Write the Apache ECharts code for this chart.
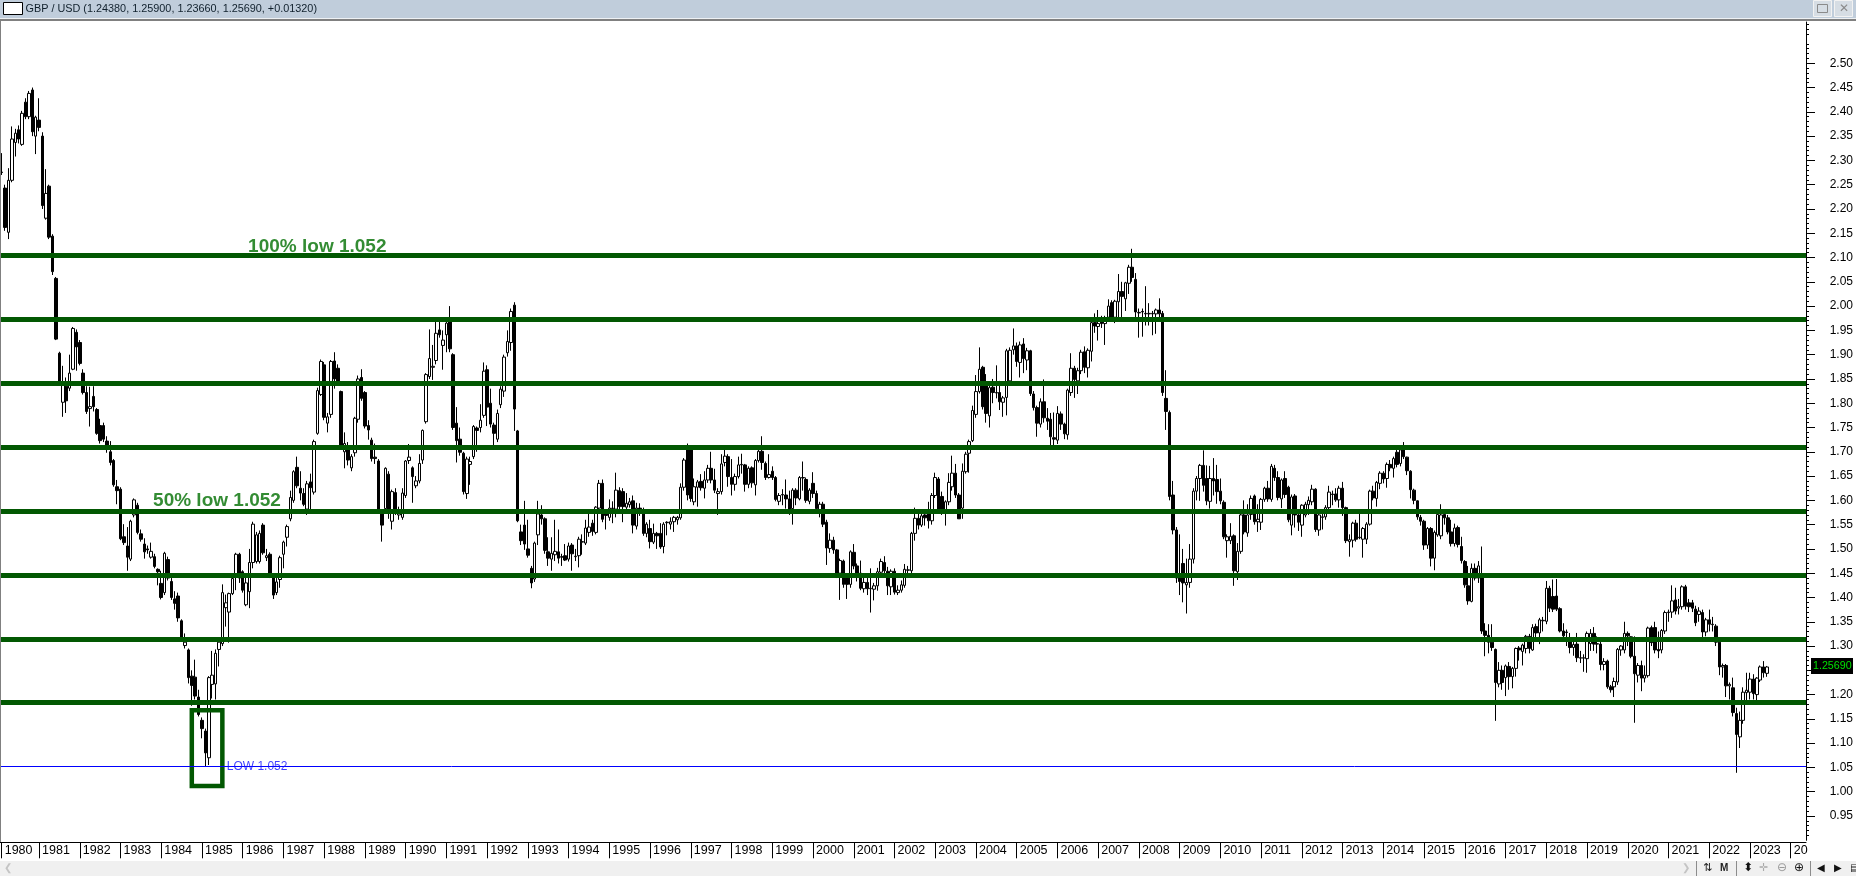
<!DOCTYPE html>
<html><head><meta charset="utf-8">
<style>html,body{margin:0;padding:0;background:#fff}#c{width:1856px;height:876px}</style>
<script src="https://cdn.jsdelivr.net/npm/echarts@6/dist/echarts.min.js"></script>
</head><body><div id="c"></div>
<script>
// Monthly GBP/USD candles, each [open, close, low, high].
const candles1980s = [
[2.275,2.276,2.27,2.315],[2.243,2.162,2.155,2.25],[2.152,2.259,2.138,2.284],[2.259,2.344,2.255,2.37],[2.337,2.356,2.308,2.365],[2.363,2.344,2.335,2.372],[2.333,2.397,2.33,2.402],[2.42,2.39,2.385,2.428],[2.39,2.438,2.385,2.443],[2.445,2.359,2.35,2.45],[2.35,2.389,2.313,2.392],
[2.383,2.368,2.36,2.428],[2.35,2.207,2.2,2.358],[2.181,2.232,2.178,2.282],[2.247,2.142,2.138,2.25],[2.144,2.071,2.064,2.148],[2.057,1.932,1.93,2.06],[1.903,1.844,1.84,1.906],[1.802,1.841,1.772,1.877],[1.835,1.805,1.78,1.853],[1.831,1.862,1.825,1.9],[1.87,1.954,1.868,1.957],[1.946,1.916,1.867,1.952],
[1.925,1.882,1.878,1.93],[1.862,1.822,1.818,1.87],[1.822,1.783,1.778,1.835],[1.789,1.793,1.752,1.834],[1.814,1.793,1.783,1.835],[1.787,1.738,1.735,1.79],[1.754,1.723,1.717,1.768],[1.754,1.726,1.72,1.76],[1.722,1.714,1.698,1.732],[1.7,1.678,1.672,1.722],[1.682,1.632,1.628,1.685],[1.628,1.62,1.592,1.642],
[1.623,1.521,1.518,1.627],[1.525,1.513,1.508,1.551],[1.506,1.483,1.455,1.545],[1.479,1.557,1.475,1.56],[1.57,1.601,1.565,1.604],[1.59,1.534,1.53,1.595],[1.531,1.52,1.515,1.54],[1.51,1.494,1.48,1.522],[1.5,1.498,1.49,1.507],[1.483,1.495,1.48,1.513],[1.484,1.464,1.46,1.49],[1.458,1.453,1.425,1.46],
[1.429,1.4,1.396,1.455],[1.41,1.491,1.405,1.494],[1.478,1.44,1.435,1.484],[1.433,1.4,1.395,1.44],[1.397,1.388,1.375,1.413],[1.403,1.358,1.35,1.41],[1.352,1.317,1.31,1.355],[1.301,1.308,1.295,1.326],[1.292,1.235,1.223,1.295],[1.238,1.219,1.177,1.25],[1.236,1.197,1.19,1.272],[1.195,1.159,1.155,1.21],
[1.147,1.13,1.11,1.153],[1.125,1.08,1.053,1.13],[1.07,1.235,1.055,1.238],[1.221,1.24,1.192,1.29],[1.222,1.285,1.19,1.293],[1.293,1.308,1.258,1.31],[1.305,1.41,1.3,1.427],[1.379,1.389,1.34,1.406],[1.37,1.408,1.307,1.41],[1.408,1.439,1.405,1.45],[1.446,1.489,1.415,1.492],[1.489,1.44,1.43,1.492],
[1.453,1.415,1.41,1.456],[1.385,1.43,1.382,1.45],[1.412,1.472,1.378,1.5],[1.472,1.551,1.46,1.556],[1.474,1.529,1.47,1.535],[1.474,1.532,1.47,1.538],[1.549,1.492,1.488,1.553],[1.482,1.486,1.475,1.5],[1.489,1.443,1.44,1.493],[1.442,1.405,1.397,1.446],[1.41,1.432,1.405,1.44],[1.437,1.482,1.42,1.486],
[1.489,1.514,1.46,1.517],[1.524,1.546,1.505,1.55],[1.562,1.606,1.557,1.62],[1.6,1.659,1.595,1.662],[1.668,1.63,1.625,1.69],[1.625,1.615,1.6,1.66],[1.614,1.592,1.588,1.625],[1.582,1.634,1.57,1.64],[1.638,1.626,1.58,1.655],[1.617,1.721,1.612,1.725],[1.738,1.826,1.735,1.832],[1.818,1.886,1.815,1.89],
[1.879,1.771,1.765,1.885],[1.759,1.772,1.74,1.78],[1.777,1.886,1.77,1.889],[1.887,1.85,1.83,1.905],[1.872,1.846,1.84,1.88],[1.824,1.714,1.71,1.826],[1.7,1.717,1.666,1.74],[1.71,1.683,1.672,1.72],[1.667,1.69,1.66,1.695],[1.698,1.769,1.69,1.772],[1.767,1.85,1.76,1.857],[1.853,1.81,1.805,1.87],
[1.822,1.753,1.748,1.825],[1.754,1.745,1.725,1.765],[1.724,1.686,1.68,1.729],[1.689,1.686,1.675,1.717],[1.681,1.582,1.58,1.685],[1.573,1.549,1.515,1.58],[1.583,1.666,1.575,1.668],[1.654,1.573,1.562,1.66],[1.557,1.618,1.54,1.622],[1.616,1.578,1.57,1.625],[1.57,1.578,1.56,1.587],[1.565,1.615,1.56,1.625]
];
const candles1990s = [
[1.61,1.681,1.605,1.683],[1.682,1.689,1.675,1.716],[1.667,1.649,1.595,1.67],[1.63,1.64,1.625,1.65],[1.64,1.676,1.635,1.695],[1.683,1.744,1.675,1.746],[1.762,1.859,1.758,1.862],[1.855,1.892,1.85,1.952],[1.874,1.876,1.848,1.92],[1.888,1.944,1.88,1.975],[1.951,1.941,1.935,1.975],[1.919,1.93,1.869,1.95],
[1.941,1.965,1.905,1.97],[1.968,1.912,1.905,2.0],[1.9,1.75,1.745,1.903],[1.759,1.723,1.678,1.792],[1.726,1.699,1.692,1.75],[1.697,1.618,1.612,1.7],[1.614,1.685,1.603,1.69],[1.674,1.68,1.632,1.69],[1.69,1.752,1.685,1.755],[1.749,1.744,1.7,1.752],[1.75,1.765,1.74,1.798],[1.775,1.866,1.77,1.884],
[1.869,1.792,1.753,1.878],[1.8,1.757,1.75,1.83],[1.755,1.738,1.714,1.76],[1.726,1.779,1.72,1.787],[1.797,1.829,1.79,1.835],[1.825,1.895,1.813,1.9],[1.904,1.927,1.896,1.95],[1.925,1.989,1.908,1.995],[2.002,1.788,1.743,2.008],[1.743,1.558,1.555,1.745],[1.535,1.517,1.508,1.55],[1.549,1.51,1.498,1.599],
[1.5,1.487,1.482,1.56],[1.46,1.43,1.419,1.465],[1.438,1.512,1.432,1.515],[1.529,1.572,1.508,1.599],[1.57,1.562,1.55,1.59],[1.562,1.497,1.49,1.565],[1.494,1.481,1.465,1.524],[1.479,1.491,1.455,1.524],[1.488,1.495,1.475,1.56],[1.494,1.481,1.47,1.54],[1.483,1.484,1.465,1.49],[1.486,1.477,1.475,1.51],
[1.479,1.506,1.474,1.513],[1.508,1.49,1.455,1.512],[1.484,1.485,1.475,1.5],[1.486,1.52,1.462,1.525],[1.514,1.515,1.488,1.53],[1.512,1.543,1.508,1.56],[1.534,1.545,1.525,1.572],[1.553,1.536,1.527,1.56],[1.534,1.586,1.53,1.588],[1.584,1.635,1.58,1.642],[1.635,1.561,1.555,1.643],[1.572,1.569,1.54,1.58],
[1.565,1.584,1.558,1.602],[1.583,1.584,1.553,1.598],[1.582,1.621,1.565,1.657],[1.62,1.587,1.58,1.627],[1.618,1.587,1.555,1.625],[1.586,1.594,1.58,1.615],[1.591,1.597,1.585,1.605],[1.599,1.549,1.532,1.61],[1.547,1.584,1.54,1.595],[1.584,1.58,1.568,1.594],[1.572,1.532,1.527,1.585],[1.532,1.551,1.524,1.555],
[1.542,1.515,1.501,1.56],[1.514,1.532,1.51,1.552],[1.532,1.527,1.5,1.535],[1.532,1.504,1.5,1.553],[1.505,1.551,1.491,1.555],[1.554,1.555,1.528,1.557],[1.551,1.556,1.54,1.565],[1.556,1.565,1.535,1.568],[1.56,1.565,1.55,1.568],[1.564,1.627,1.56,1.635],[1.627,1.683,1.62,1.687],[1.704,1.611,1.6,1.717],
[1.704,1.604,1.597,1.708],[1.597,1.628,1.59,1.645],[1.627,1.638,1.587,1.642],[1.639,1.626,1.62,1.654],[1.625,1.642,1.604,1.66],[1.642,1.666,1.636,1.673],[1.666,1.642,1.635,1.7],[1.642,1.621,1.615,1.665],[1.614,1.618,1.57,1.625],[1.618,1.675,1.612,1.695],[1.678,1.691,1.67,1.705],[1.69,1.649,1.628,1.695],
[1.647,1.633,1.61,1.685],[1.633,1.649,1.62,1.655],[1.649,1.673,1.645,1.69],[1.673,1.674,1.655,1.696],[1.673,1.633,1.618,1.675],[1.633,1.666,1.625,1.67],[1.667,1.636,1.626,1.67],[1.632,1.682,1.61,1.685],[1.682,1.701,1.678,1.705],[1.701,1.678,1.663,1.732],[1.676,1.647,1.642,1.68],[1.647,1.653,1.645,1.695],
[1.66,1.647,1.642,1.67],[1.647,1.602,1.598,1.65],[1.598,1.61,1.59,1.615],[1.611,1.612,1.59,1.623],[1.611,1.603,1.583,1.643],[1.603,1.577,1.57,1.62],[1.583,1.621,1.55,1.625],[1.621,1.605,1.59,1.625],[1.603,1.647,1.6,1.65],[1.646,1.647,1.62,1.68],[1.643,1.6,1.595,1.647],[1.598,1.621,1.592,1.625]
];
const candles2000s = [
[1.635,1.614,1.605,1.658],[1.614,1.583,1.578,1.62],[1.581,1.592,1.565,1.597],[1.592,1.551,1.545,1.597],[1.555,1.502,1.467,1.56],[1.501,1.518,1.492,1.532],[1.518,1.498,1.49,1.525],[1.498,1.45,1.44,1.5],[1.45,1.476,1.395,1.48],[1.475,1.427,1.42,1.478],[1.44,1.427,1.397,1.445],[1.427,1.494,1.42,1.497],
[1.493,1.465,1.458,1.51],[1.465,1.443,1.433,1.47],[1.45,1.419,1.415,1.476],[1.418,1.431,1.41,1.44],[1.431,1.418,1.405,1.44],[1.418,1.419,1.369,1.46],[1.417,1.424,1.394,1.43],[1.424,1.453,1.414,1.461],[1.452,1.474,1.447,1.48],[1.472,1.455,1.45,1.485],[1.454,1.424,1.405,1.463],[1.422,1.454,1.405,1.458],
[1.454,1.411,1.406,1.46],[1.41,1.415,1.405,1.425],[1.415,1.426,1.41,1.435],[1.425,1.458,1.42,1.469],[1.456,1.457,1.44,1.465],[1.455,1.532,1.45,1.535],[1.532,1.563,1.517,1.585],[1.563,1.549,1.54,1.573],[1.549,1.568,1.545,1.575],[1.57,1.564,1.548,1.573],[1.577,1.558,1.542,1.597],[1.558,1.61,1.55,1.615],
[1.61,1.647,1.605,1.657],[1.644,1.582,1.575,1.648],[1.608,1.577,1.57,1.618],[1.575,1.597,1.548,1.6],[1.597,1.637,1.59,1.656],[1.628,1.656,1.62,1.692],[1.656,1.611,1.605,1.675],[1.611,1.562,1.562,1.615],[1.584,1.66,1.562,1.676],[1.659,1.695,1.655,1.7],[1.697,1.721,1.657,1.725],[1.723,1.785,1.72,1.795],
[1.777,1.824,1.77,1.858],[1.824,1.87,1.82,1.915],[1.874,1.793,1.787,1.877],[1.836,1.779,1.76,1.86],[1.774,1.832,1.75,1.836],[1.833,1.822,1.8,1.85],[1.821,1.822,1.81,1.878],[1.822,1.803,1.786,1.846],[1.802,1.811,1.772,1.815],[1.812,1.908,1.775,1.912],[1.846,1.909,1.84,1.915],[1.91,1.918,1.9,1.954],
[1.918,1.886,1.875,1.925],[1.884,1.92,1.853,1.927],[1.922,1.892,1.862,1.934],[1.889,1.908,1.868,1.914],[1.908,1.82,1.815,1.91],[1.819,1.791,1.785,1.825],[1.791,1.759,1.731,1.795],[1.757,1.803,1.75,1.81],[1.803,1.77,1.76,1.849],[1.769,1.763,1.745,1.79],[1.767,1.731,1.714,1.78],[1.729,1.726,1.714,1.781],
[1.724,1.779,1.716,1.794],[1.778,1.757,1.745,1.783],[1.757,1.737,1.726,1.76],[1.735,1.827,1.725,1.83],[1.822,1.872,1.815,1.903],[1.872,1.849,1.811,1.877],[1.846,1.867,1.819,1.873],[1.867,1.905,1.86,1.91],[1.906,1.874,1.862,1.917],[1.873,1.909,1.853,1.913],[1.907,1.966,1.886,1.97],[1.966,1.959,1.945,1.985],
[1.958,1.964,1.929,1.992],[1.974,1.964,1.955,1.98],[1.964,1.974,1.92,1.98],[1.977,2.0,1.97,2.014],[2.007,1.977,1.97,2.012],[1.977,2.01,1.965,2.013],[2.009,2.03,1.975,2.066],[2.03,2.02,1.977,2.05],[2.015,2.048,1.99,2.05],[2.047,2.08,2.025,2.085],[2.08,2.059,2.05,2.118],[2.055,1.988,1.977,2.068],
[1.986,1.987,1.935,1.995],[1.989,1.988,1.937,1.995],[1.984,1.985,1.96,2.041],[1.984,1.985,1.96,2.006],[1.984,1.985,1.94,1.99],[1.984,1.992,1.943,1.995],[1.992,1.984,1.97,2.016],[1.985,1.822,1.815,1.99],[1.81,1.783,1.745,1.868],[1.781,1.608,1.6,1.785],[1.611,1.539,1.53,1.64],[1.539,1.44,1.43,1.545],
[1.44,1.433,1.405,1.53],[1.47,1.43,1.39,1.5],[1.426,1.431,1.367,1.48],[1.431,1.479,1.42,1.51],[1.479,1.619,1.47,1.625],[1.619,1.645,1.6,1.65],[1.645,1.672,1.599,1.675],[1.672,1.631,1.618,1.703],[1.645,1.599,1.59,1.672],[1.598,1.645,1.583,1.671],[1.645,1.64,1.61,1.687],[1.643,1.618,1.593,1.673]
];
const candles2010s = [
[1.619,1.599,1.592,1.645],[1.596,1.525,1.52,1.6],[1.517,1.525,1.482,1.53],[1.517,1.526,1.51,1.553],[1.527,1.455,1.424,1.53],[1.453,1.495,1.436,1.512],[1.495,1.57,1.49,1.573],[1.57,1.535,1.53,1.6],[1.533,1.57,1.525,1.592],[1.571,1.604,1.56,1.61],[1.609,1.556,1.55,1.612],[1.556,1.561,1.535,1.592],
[1.555,1.602,1.539,1.605],[1.602,1.625,1.597,1.628],[1.625,1.603,1.597,1.64],[1.602,1.67,1.597,1.675],[1.666,1.647,1.64,1.673],[1.647,1.606,1.6,1.66],[1.603,1.642,1.584,1.645],[1.645,1.612,1.605,1.66],[1.627,1.56,1.555,1.63],[1.549,1.607,1.528,1.612],[1.609,1.57,1.544,1.613],[1.57,1.555,1.537,1.58],
[1.549,1.59,1.525,1.592],[1.57,1.592,1.565,1.597],[1.591,1.6,1.57,1.608],[1.597,1.623,1.59,1.632],[1.623,1.54,1.535,1.625],[1.539,1.57,1.527,1.573],[1.565,1.566,1.54,1.572],[1.566,1.585,1.56,1.59],[1.585,1.617,1.58,1.63],[1.612,1.613,1.59,1.62],[1.613,1.601,1.597,1.625],[1.601,1.625,1.585,1.63],
[1.625,1.585,1.568,1.638],[1.585,1.517,1.512,1.587],[1.515,1.519,1.484,1.53],[1.518,1.553,1.503,1.556],[1.553,1.52,1.515,1.56],[1.523,1.524,1.52,1.573],[1.52,1.542,1.482,1.545],[1.52,1.551,1.51,1.555],[1.551,1.619,1.548,1.622],[1.619,1.605,1.6,1.63],[1.604,1.637,1.587,1.64],[1.635,1.656,1.623,1.66],
[1.656,1.644,1.635,1.66],[1.645,1.674,1.626,1.678],[1.674,1.667,1.66,1.683],[1.666,1.686,1.647,1.69],[1.699,1.674,1.668,1.704],[1.676,1.704,1.67,1.71],[1.704,1.69,1.685,1.72],[1.689,1.661,1.652,1.69],[1.66,1.622,1.604,1.662],[1.621,1.6,1.592,1.624],[1.599,1.566,1.56,1.6],[1.565,1.557,1.548,1.57],
[1.557,1.508,1.498,1.56],[1.508,1.542,1.5,1.545],[1.542,1.481,1.464,1.545],[1.481,1.534,1.456,1.538],[1.529,1.571,1.525,1.575],[1.527,1.57,1.52,1.592],[1.571,1.564,1.55,1.575],[1.564,1.535,1.53,1.57],[1.535,1.511,1.505,1.56],[1.511,1.543,1.505,1.552],[1.544,1.509,1.503,1.548],[1.505,1.476,1.47,1.525],
[1.474,1.426,1.42,1.477],[1.424,1.393,1.385,1.465],[1.392,1.46,1.39,1.47],[1.46,1.44,1.435,1.47],[1.44,1.465,1.43,1.475],[1.44,1.331,1.325,1.505],[1.331,1.322,1.279,1.347],[1.322,1.308,1.285,1.345],[1.308,1.297,1.29,1.345],[1.293,1.225,1.146,1.295],[1.222,1.25,1.215,1.267],[1.25,1.225,1.21,1.26],
[1.235,1.259,1.197,1.262],[1.258,1.237,1.21,1.267],[1.237,1.254,1.213,1.257],[1.254,1.295,1.237,1.297],[1.296,1.292,1.27,1.3],[1.289,1.302,1.26,1.305],[1.295,1.32,1.285,1.323],[1.32,1.295,1.285,1.325],[1.292,1.338,1.29,1.345],[1.34,1.327,1.31,1.346],[1.327,1.354,1.304,1.358],[1.352,1.353,1.33,1.36],
[1.351,1.419,1.345,1.434],[1.419,1.378,1.37,1.424],[1.402,1.376,1.37,1.437],[1.403,1.376,1.372,1.438],[1.377,1.331,1.328,1.38],[1.331,1.321,1.31,1.347],[1.329,1.328,1.3,1.334],[1.31,1.297,1.285,1.327],[1.297,1.303,1.28,1.31],[1.304,1.276,1.267,1.327],[1.275,1.276,1.265,1.29],[1.275,1.276,1.247,1.283],
[1.274,1.326,1.245,1.33],[1.305,1.326,1.29,1.335],[1.326,1.304,1.29,1.339],[1.304,1.305,1.285,1.32],[1.304,1.262,1.25,1.31],[1.262,1.268,1.25,1.275],[1.269,1.216,1.212,1.272],[1.216,1.21,1.204,1.22],[1.216,1.227,1.195,1.235],[1.226,1.293,1.22,1.296],[1.292,1.3,1.28,1.302],[1.292,1.326,1.285,1.35]
];
const candles2020s = [
[1.326,1.321,1.3,1.33],[1.319,1.279,1.275,1.32],[1.279,1.243,1.142,1.32],[1.24,1.26,1.225,1.265],[1.26,1.234,1.207,1.27],[1.234,1.24,1.225,1.26],[1.239,1.337,1.235,1.34],[1.338,1.307,1.3,1.342],[1.338,1.292,1.285,1.35],[1.293,1.29,1.275,1.33],[1.292,1.332,1.285,1.335],[1.331,1.369,1.325,1.373],
[1.369,1.37,1.35,1.375],[1.37,1.393,1.358,1.425],[1.395,1.372,1.365,1.42],[1.378,1.381,1.365,1.397],[1.381,1.422,1.375,1.425],[1.422,1.382,1.375,1.426],[1.389,1.381,1.37,1.397],[1.389,1.378,1.37,1.395],[1.376,1.348,1.341,1.383],[1.365,1.372,1.35,1.38],[1.369,1.329,1.317,1.375],[1.329,1.354,1.32,1.358],
[1.354,1.345,1.33,1.375],[1.344,1.345,1.33,1.36],[1.341,1.308,1.3,1.345],[1.308,1.257,1.24,1.31],[1.257,1.26,1.235,1.264],[1.26,1.218,1.195,1.263],[1.218,1.221,1.19,1.225],[1.214,1.163,1.155,1.235],[1.161,1.118,1.039,1.173],[1.113,1.147,1.09,1.165],[1.147,1.205,1.14,1.215],[1.204,1.209,1.18,1.245],
[1.205,1.232,1.19,1.245],[1.232,1.202,1.19,1.242],[1.2,1.234,1.187,1.236],[1.23,1.257,1.226,1.26],[1.257,1.245,1.235,1.269],[1.2438,1.2569,1.2366,1.259]
];
const fibLevels = [2.104,1.9725,1.841,1.7095,1.578,1.4465,1.315,1.1835];
const lowLevel = 1.052;
const priceTicks = [0.95,1,1.05,1.1,1.15,1.2,1.25,1.3,1.35,1.4,1.45,1.5,1.55,1.6,1.65,1.7,1.75,1.8,1.85,1.9,1.95,2,2.05,2.1,2.15,2.2,2.25,2.3,2.35,2.4,2.45,2.5];
const titleText = 'GBP / USD (1.24380, 1.25900, 1.23660, 1.25690, +0.01320)';
const lastPriceText = '1.25690';

const GREEN = '#025802', FONT = '"Liberation Sans",Arial,sans-serif';
const candles = [...candles1980s,...candles1990s,...candles2000s,...candles2010s,...candles2020s];
const months = [];
for (let k = 0; k < 532; k++) { const m = k + 1; months.push((1980 + Math.floor(m / 12)) + '-' + String(m % 12 + 1).padStart(2, '0')); }
const isYearTick = i => i === 0 || months[i].endsWith('-01');

const chart = echarts.init(document.getElementById('c'), null, {renderer: 'canvas'});

const txt = (x, y, s, o = {}) => ({type: 'text', z: 50, x, y, silent: true, style: Object.assign({text: s, font: '12px ' + FONT, fill: '#000', verticalAlign: 'middle'}, o)});
const rect = (x, y, w, h, fill, o = {}) => ({type: 'rect', z: 40, silent: true, shape: {x, y, width: w, height: h}, style: Object.assign({fill}, o)});
const BAR = 868;
const chrome = [
  rect(0, 0, 1856, 18, '#c0cddb'),
  rect(0, 18, 1856, 1, '#eef1f4'),
  rect(0, 19, 1856, 2, '#808080'),
  rect(0, 21, 1, 821, '#808080'),
  rect(3.5, 2.5, 19, 12, '#fff', {stroke: '#000', lineWidth: 1}),
  txt(25.5, 8.5, titleText, {font: '10.85px ' + FONT, fill: '#10202c'}),
  rect(1813.5, 0.5, 18, 16, '#d6dde4', {stroke: '#f2f2f2', lineWidth: 1}),
  rect(1817.5, 4.5, 10, 8, 'none', {stroke: '#8a8a8a', lineWidth: 1}),
  rect(1834.5, 0.5, 18, 16, '#d6dde4', {stroke: '#f2f2f2', lineWidth: 1}),
  txt(1839, 8.5, '\u2715', {font: '12px "DejaVu Sans"', fill: '#8a8a8a'}),
  rect(0, 861, 1856, 15, '#f0f0f0'),
  txt(4, BAR, '\u276E', {font: '10px "DejaVu Sans"', fill: '#c4c4c4'}),
  txt(1682, BAR, '\u276F', {font: '10px "DejaVu Sans"', fill: '#c4c4c4'}),
  rect(1696, 861, 1, 15, '#8c8c8c'),
  txt(1703, BAR, '\u21C5', {font: '11px "DejaVu Sans"', fill: '#222'}),
  txt(1720, BAR, 'M', {font: 'bold 10px ' + FONT, fill: '#222'}),
  rect(1736, 861, 1, 15, '#8c8c8c'),
  txt(1743, BAR, '\u2B0D', {font: '12px "DejaVu Sans"', fill: '#111'}),
  txt(1759, BAR, '\u271B', {font: '11px "DejaVu Sans"', fill: '#aaa'}),
  txt(1777, BAR, '\u2296', {font: '12px "DejaVu Sans"', fill: '#999'}),
  txt(1794, BAR, '\u2295', {font: '12px "DejaVu Sans"', fill: '#111'}),
  rect(1810, 861, 1, 15, '#8c8c8c'),
  txt(1817, BAR, '\u25C0', {font: '10px "DejaVu Sans"', fill: '#111'}),
  txt(1834, BAR, '\u25B6', {font: '10px "DejaVu Sans"', fill: '#111'}),
  txt(1850, BAR, '\u25A4', {font: '10px "DejaVu Sans"', fill: '#222'}),
  rect(1811, 658, 42, 16, '#000'),
  txt(1813, 666.5, lastPriceText, {font: '10.7px ' + FONT, fill: '#00e000'})
];

chart.setOption({
  animation: false,
  backgroundColor: '#fff',
  graphic: {elements: chrome},
  grid: {left: 0, right: 50, top: 22, bottom: 876 - 840.3, containLabel: false},
  xAxis: {
    type: 'category', data: months, boundaryGap: true, offset: 2,
    axisLine: {lineStyle: {color: '#000', width: 1}},
    axisTick: {show: true, alignWithLabel: true, interval: isYearTick, length: 16, lineStyle: {color: '#000', width: 1}},
    splitLine: {show: false},
    axisLabel: {
      interval: isYearTick, hideOverlap: false, showMinLabel: true, showMaxLabel: true,
      align: 'left', verticalAlign: 'top', margin: 2, padding: [0, 0, 0, 3],
      color: '#000', fontFamily: FONT, fontSize: 12.5,
      formatter: v => { const y = v.slice(0, 4); return y === '2024' ? '20' : y; }
    }
  },
  yAxis: {
    type: 'value', position: 'right', min: 0.9, max: 2.585, interval: 0.05, scale: true,
    splitLine: {show: false},
    axisLine: {show: true, lineStyle: {color: '#000', width: 1}},
    axisTick: {show: true, length: 9, customValues: priceTicks, lineStyle: {color: '#000'}},
    minorTick: {show: true, splitNumber: 5, length: 3, lineStyle: {color: '#000'}},
    axisLabel: {
      customValues: priceTicks, align: 'right', margin: 47, color: '#000', fontFamily: FONT, fontSize: 12,
      padding: [2, 0, 0, 0], formatter: v => v.toFixed(2)
    }
  },
  series: [
    {
      type: 'candlestick', data: candles, barWidth: 3, z: 3, clip: false,
      itemStyle: {color: '#fff', color0: '#000', borderColor: '#000', borderColor0: '#000', borderWidth: 1}
    },
    {
      type: 'scatter', z: 6, symbolSize: 0, silent: true,
      data: [
        {value: [months[72], 2.123], label: {show: true, position: 'right', distance: 2, formatter: '100% low 1.052', color: '#006f00', fontFamily: FONT, fontWeight: 'bold', fontSize: 19}},
        {value: [months[44], 1.6], label: {show: true, position: 'right', distance: 2, formatter: '50% low 1.052', color: '#006f00', fontFamily: FONT, fontWeight: 'bold', fontSize: 19}},
        {value: [months[66], 1.052], label: {show: true, position: 'right', distance: 1, formatter: 'LOW 1.052', color: '#1010ff', fontFamily: FONT, fontSize: 12}}
      ],
      markLine: {
        silent: true, symbol: 'none', label: {show: false}, animation: false, z: 6, precision: 4,
        data: [
          ...fibLevels.map(v => ({yAxis: v, lineStyle: {color: GREEN, width: 5, type: 'solid'}})),
          {yAxis: lowLevel, lineStyle: {color: '#0000ff', width: 1, type: 'solid'}}
        ]
      },
      markArea: {
        silent: true, z: 6,
        itemStyle: {color: 'rgba(0,0,0,0)', borderColor: GREEN, borderWidth: 4.5},
        data: [[{xAxis: months[56], yAxis: 1.168}, {xAxis: months[65], yAxis: 1.012}]]
      }
    }
  ]
});
</script></body></html>
